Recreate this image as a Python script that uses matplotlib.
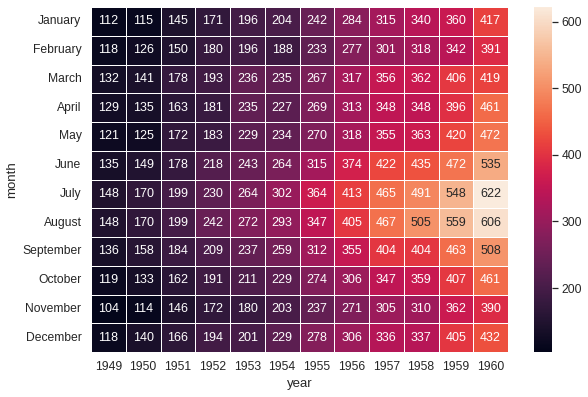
import matplotlib
matplotlib.use("Agg")
import matplotlib.pyplot as plt
import seaborn as sns
import pandas as pd

months = ["January", "February", "March", "April", "May", "June", "July",
          "August", "September", "October", "November", "December"]
years = [1949, 1950, 1951, 1952, 1953, 1954, 1955, 1956, 1957, 1958, 1959, 1960]

# passengers per year, one list per year (Jan..Dec)
p1949 = [112, 118, 132, 129, 121, 135, 148, 148, 136, 119, 104, 118]
p1950 = [115, 126, 141, 135, 125, 149, 170, 170, 158, 133, 114, 140]
p1951 = [145, 150, 178, 163, 172, 178, 199, 199, 184, 162, 146, 166]
p1952 = [171, 180, 193, 181, 183, 218, 230, 242, 209, 191, 172, 194]
p1953 = [196, 196, 236, 235, 229, 243, 264, 272, 237, 211, 180, 201]
p1954 = [204, 188, 235, 227, 234, 264, 302, 293, 259, 229, 203, 229]
p1955 = [242, 233, 267, 269, 270, 315, 364, 347, 312, 274, 237, 278]
p1956 = [284, 277, 317, 313, 318, 374, 413, 405, 355, 306, 271, 306]
p1957 = [315, 301, 356, 348, 355, 422, 465, 467, 404, 347, 305, 336]
p1958 = [340, 318, 362, 348, 363, 435, 491, 505, 404, 359, 310, 337]
p1959 = [360, 342, 406, 396, 420, 472, 548, 559, 463, 407, 362, 405]
p1960 = [417, 391, 419, 461, 472, 535, 622, 606, 508, 461, 390, 432]

cols = [p1949, p1950, p1951, p1952, p1953, p1954,
        p1955, p1956, p1957, p1958, p1959, p1960]
flights = pd.DataFrame({y: c for y, c in zip(years, cols)}, index=months)
flights.index.name = "month"
flights.columns.name = "year"

sns.set_theme(font_scale=1.1)
plt.rcParams['font.family'] = ['Liberation Sans', 'DejaVu Sans']

W, H = 588, 397
fig = plt.figure(figsize=(W/72, H/72), dpi=72)
ax = fig.add_axes([91/W, 45/H, 417/W, 345/H])
cax = fig.add_axes([534/W, 45/H, 18/W, 345/H])

sns.heatmap(flights, annot=True, fmt="d", linewidths=.5, ax=ax, cbar_ax=cax,
            annot_kws={"size": 12.5})
ax.tick_params(axis='y', rotation=0)
ax.tick_params(axis='x', rotation=0)

fig.savefig("out.png", dpi=72)
